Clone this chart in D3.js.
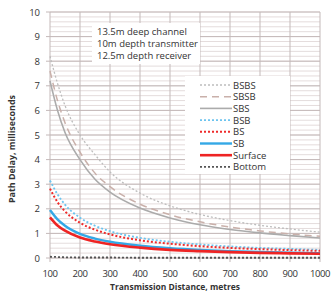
<!DOCTYPE html>
<html><head><meta charset="utf-8">
<script src="https://cdn.jsdelivr.net/npm/d3@7"></script>
<style>body{margin:0;background:#fff}svg{display:block}</style>
</head><body><svg id="c" width="331" height="293"></svg>
<script>
const distances = [100,125,150,200,250,300,400,500,600,700,800,900,1000];
const seriesNames = ["BSBS","SBSB","SBS","BSB","BS","SB","Surface","Bottom"];
const bsbs    = [8.2,7.1,6.2,5.0,4.2,3.5,2.64,2.12,1.77,1.52,1.33,1.18,1.05];
const sbsb    = [7.6,6.4,5.5,4.3,3.45,2.9,2.19,1.76,1.47,1.26,1.10,0.98,0.88];
const sbs     = [7.2,6.0,5.1,4.0,3.2,2.68,2.03,1.63,1.35,1.16,1.02,0.91,0.81];
const bsb     = [3.15,2.59,2.17,1.64,1.31,1.09,0.82,0.66,0.55,0.47,0.41,0.37,0.33];
const bs      = [2.82,2.27,1.90,1.43,1.15,0.96,0.72,0.58,0.48,0.41,0.36,0.32,0.29];
const sb      = [1.95,1.57,1.31,0.98,0.79,0.66,0.50,0.40,0.33,0.28,0.25,0.22,0.20];
const surface = [1.65,1.32,1.11,0.83,0.67,0.56,0.42,0.33,0.28,0.24,0.21,0.19,0.17];
const bottom  = [0.05,0.04,0.03,0.02,0.02,0.02,0.01,0.01,0.01,0.01,0.01,0.01,0.01];
const xTicks = [100,200,300,400,500,600,700,800,900,1000];
const yTicks = [0,1,2,3,4,5,6,7,8,9,10];
const notes = ["13.5m deep channel","10m depth transmitter","12.5m depth receiver"];

const styles = {
  BSBS:{c:"#bdbdbd",w:1.3,d:"2,2"},
  SBSB:{c:"#c9b0aa",w:1.5,d:"7,5"},
  SBS:{c:"#ababab",w:1.6,d:null},
  BSB:{c:"#6cc4ef",w:1.8,d:"2,2"},
  BS:{c:"#ee2b2b",w:2,d:"2,2"},
  SB:{c:"#34a8e6",w:2.4,d:null},
  Surface:{c:"#ee2424",w:2.6,d:null},
  Bottom:{c:"#555555",w:1.8,d:"2,2"}
};
const data = {BSBS:bsbs,SBSB:sbsb,SBS:sbs,BSB:bsb,BS:bs,SB:sb,Surface:surface,Bottom:bottom};

const svg = d3.select("#c");
const x = d3.scaleLinear().domain([100,1000]).range([50,320]);
const y = d3.scaleLinear().domain([0,10]).range([258,12]);
const font = "'Open Sans', sans-serif";

// minor grid
svg.append("g").selectAll("line").data(d3.range(0,10.01,0.2)).join("line")
  .attr("x1",x(100)).attr("x2",x(1000)).attr("y1",d=>y(d)).attr("y2",d=>y(d))
  .attr("stroke","#ddd3d3").attr("stroke-width",0.8);
// major grid
svg.append("g").selectAll("line").data(yTicks).join("line")
  .attr("x1",x(100)-4).attr("x2",x(1000)).attr("y1",d=>y(d)).attr("y2",d=>y(d))
  .attr("stroke","#c4b9b9").attr("stroke-width",1);
svg.append("g").selectAll("line").data(xTicks).join("line")
  .attr("x1",d=>x(d)).attr("x2",d=>x(d)).attr("y1",y(10)).attr("y2",y(0)+4)
  .attr("stroke","#c4b9b9").attr("stroke-width",1);

// note box
svg.append("rect").attr("x",92).attr("y",23).attr("width",108).attr("height",41).attr("fill","#fff");
svg.append("g").selectAll("text").data(notes).join("text")
  .attr("x",97).attr("y",(d,i)=>35+i*12).text(d=>d)
  .attr("font-family",font).attr("font-size",9.5).attr("fill","#333");

// curves
const line = d3.line().x((d,i)=>x(distances[i])).y(d=>y(d)).curve(d3.curveMonotoneX);
const drawOrder = ["BSBS","SBSB","SBS","Bottom","BSB","BS","SB","Surface"];
drawOrder.forEach(n=>{
  const s = styles[n];
  svg.append("path").datum(data[n]).attr("d",line).attr("fill","none")
    .attr("stroke",s.c).attr("stroke-width",s.w).attr("stroke-dasharray",s.d);
});

// legend
svg.append("rect").attr("x",185).attr("y",76).attr("width",105).attr("height",98).attr("fill","#fff");
const lg = svg.append("g").selectAll("g").data(seriesNames).join("g")
  .attr("transform",(d,i)=>`translate(0,${85+i*11.7})`);
lg.append("line").attr("x1",200).attr("x2",232).attr("y1",0).attr("y2",0)
  .attr("stroke",d=>styles[d].c).attr("stroke-width",d=>styles[d].w)
  .attr("stroke-dasharray",d=>styles[d].d);
lg.append("text").attr("x",233).attr("y",3.5).text(d=>d)
  .attr("font-family",font).attr("font-size",9.5).attr("fill","#333");

// tick labels
svg.append("g").selectAll("text").data(yTicks).join("text")
  .attr("x",40).attr("y",d=>y(d)+3.5).attr("text-anchor","end").text(d=>d)
  .attr("font-family",font).attr("font-size",9.5).attr("fill","#333");
svg.append("g").selectAll("text").data(xTicks).join("text")
  .attr("x",d=>x(d)).attr("y",277).attr("text-anchor","middle").text(d=>d)
  .attr("font-family",font).attr("font-size",9.5).attr("fill","#333").attr("letter-spacing",-0.4);

// axis titles
svg.append("text").attr("x",110).attr("y",290)
  .attr("textLength",130).attr("lengthAdjust","spacingAndGlyphs")
  .text("Transmission Distance, metres").attr("font-family",font).attr("font-size",9.5).attr("font-weight","bold").attr("fill","#333");
svg.append("text").attr("transform","translate(15,203) rotate(-90)")
  .attr("textLength",108).attr("lengthAdjust","spacingAndGlyphs")
  .text("Path Delay, milliseconds").attr("font-family",font).attr("font-size",9.5).attr("font-weight","bold").attr("fill","#333");
</script></body></html>
